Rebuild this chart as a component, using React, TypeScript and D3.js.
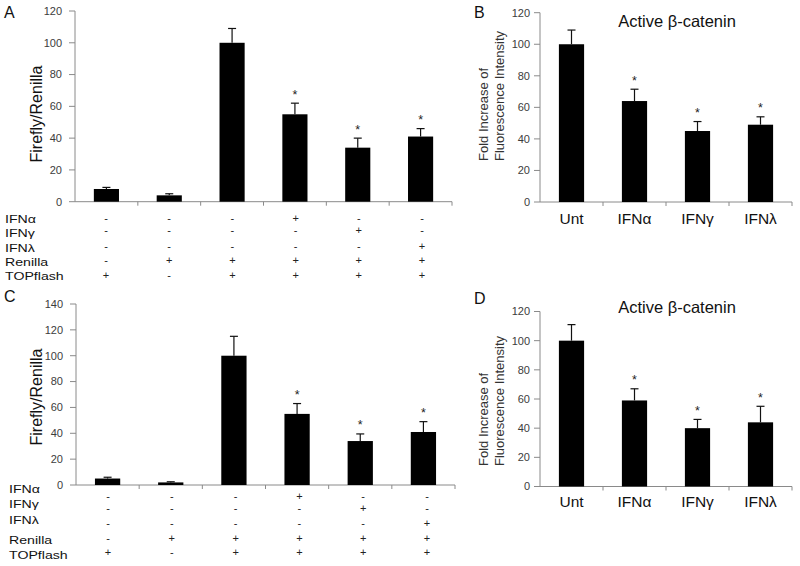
import React from 'react'
import * as d3 from 'd3'

// ---- data ----
const conditionRows = ['IFNα', 'IFNγ', 'IFNλ', 'Renilla', 'TOPflash']
const conditionSigns = [
  ['-', '-', '-', '+', '-', '-'],
  ['-', '-', '-', '-', '+', '-'],
  ['-', '-', '-', '-', '-', '+'],
  ['-', '+', '+', '+', '+', '+'],
  ['+', '-', '+', '+', '+', '+'],
]
const groups = ['1', '2', '3', '4', '5', '6']

const valuesA = [8, 4, 100, 55, 34, 41]
const errorsA = [1, 1, 9, 7, 6, 5]
const starsA = [false, false, false, true, true, true]
const ticksA = [0, 20, 40, 60, 80, 100, 120]

const valuesC = [5, 2, 100, 55, 34, 41]
const errorsC = [1, 0.5, 15, 8, 5.5, 8]
const starsC = [false, false, false, true, true, true]
const ticksC = [0, 20, 40, 60, 80, 100, 120, 140]

const treatments = ['Unt', 'IFNα', 'IFNγ', 'IFNλ']
const valuesB = [100, 64, 45, 49]
const errorsB = [9, 7.5, 6, 5]
const starsB = [false, true, true, true]

const valuesD = [100, 59, 40, 44]
const errorsD = [11, 8, 6, 11]
const starsD = [false, true, true, true]
const ticksBD = [0, 20, 40, 60, 80, 100, 120]

const FONT = '"Liberation Sans", Arial, Helvetica, sans-serif'
const AXIS = '#8a8a8a'
const TICKTXT = '#3c3c3c'

interface BarsProps {
  cats: string[]
  values: number[]
  errors: number[]
  stars: boolean[]
  ticks: number[]
  x0: number
  x1: number
  yTop: number
  yBottom: number
  labelGap: number
}

function Bars({ cats, values, errors, stars, ticks, x0, x1, yTop, yBottom, labelGap }: BarsProps) {
  const max = ticks[ticks.length - 1]
  const x = d3.scaleBand().domain(cats).range([x0, x1]).paddingInner(0.6).paddingOuter(0.3)
  const y = d3.scaleLinear().domain([0, max]).range([yBottom, yTop])
  const bw = x.bandwidth()
  const step = x.step()
  return (
    <g>
      {/* y axis */}
      <line x1={x0} x2={x0} y1={y(0)} y2={y(max)} stroke={AXIS} />
      {ticks.map(t => (
        <g key={t}>
          <line x1={x0 - 6} x2={x0} y1={y(t)} y2={y(t)} stroke={AXIS} />
          <text x={x0 - labelGap} y={y(t)} dy="0.35em" textAnchor="end" fontSize={11} fill={TICKTXT}>{t}</text>
        </g>
      ))}
      {/* x axis */}
      <line x1={x0} x2={x1} y1={y(0)} y2={y(0)} stroke={AXIS} />
      {cats.map((c, i) => (
        <line key={c} x1={x0 + step * (i + 1)} x2={x0 + step * (i + 1)} y1={y(0)} y2={y(0) + 4} stroke={AXIS} />
      ))}
      {/* bars, error bars, stars */}
      {cats.map((c, i) => {
        const cx = (x(c) ?? 0) + bw / 2
        const top = y(values[i] + errors[i])
        return (
          <g key={c}>
            <rect x={x(c)} y={y(values[i])} width={bw} height={y(0) - y(values[i])} fill="#000" />
            <line x1={cx} x2={cx} y1={y(values[i])} y2={top} stroke="#111" strokeWidth={1.2} />
            <line x1={cx - 4} x2={cx + 4} y1={top} y2={top} stroke="#111" strokeWidth={1.2} />
            {stars[i] && (
              <text x={cx} y={top - 4.5} textAnchor="middle" fontSize={12.5} fill="#222">*</text>
            )}
          </g>
        )
      })}
    </g>
  )
}

interface LucProps {
  values: number[]
  errors: number[]
  stars: boolean[]
  ticks: number[]
  x0: number
  x1: number
  yTop: number
  yBottom: number
  letter: string
  letterY: number
  labelX: number
  labelRows: number[]
  signRows: number[]
  signRange: [number, number]
  titleY: number
}

function LuciferasePanel(p: LucProps) {
  const sx = d3.scalePoint().domain(groups).range(p.signRange)
  return (
    <g>
      <text x={4} y={p.letterY} fontSize={16} fill="#111">{p.letter}</text>
      <Bars cats={groups} values={p.values} errors={p.errors} stars={p.stars} ticks={p.ticks}
        x0={p.x0} x1={p.x1} yTop={p.yTop} yBottom={p.yBottom} labelGap={13} />
      <text transform={`translate(42,${p.titleY}) rotate(-90)`} textAnchor="middle" fontSize={16} fill="#111">
        Firefly/Renilla
      </text>
      {conditionRows.map((r, ri) => (
        <g key={r}>
          <text transform={`translate(${p.labelX},${p.labelRows[ri]}) scale(1.2,1)`} dy="0.35em"
            fontSize={11.8} fill="#111">{r}</text>
          {groups.map((g, gi) => (
            <text key={g} x={sx(g)} y={p.signRows[ri]} dy="0.35em" textAnchor="middle" fontSize={11} fill="#222">
              {conditionSigns[ri][gi]}
            </text>
          ))}
        </g>
      ))}
    </g>
  )
}

interface StainProps {
  values: number[]
  errors: number[]
  stars: boolean[]
  yTop: number
  yBottom: number
  letter: string
  letterY: number
  titleY: number
  catY: number
  ylabY: number
}

function StainPanel(p: StainProps) {
  const x0 = 540
  const x1 = 792
  const x = d3.scaleBand().domain(treatments).range([x0, x1]).paddingInner(0.6).paddingOuter(0.3)
  return (
    <g>
      <text x={474} y={p.letterY} fontSize={16} fill="#111">{p.letter}</text>
      <Bars cats={treatments} values={p.values} errors={p.errors} stars={p.stars} ticks={ticksBD}
        x0={x0} x1={x1} yTop={p.yTop} yBottom={p.yBottom} labelGap={10} />
      <text x={677} y={p.titleY} textAnchor="middle" fontSize={16.5} fill="#111">Active β-catenin</text>
      {treatments.map(t => (
        <text key={t} x={(x(t) ?? 0) + x.bandwidth() / 2} y={p.catY} textAnchor="middle" fontSize={15.5} fill="#111">{t}</text>
      ))}
      <text transform={`translate(488,${p.ylabY}) rotate(-90)`} fontSize={13} fill="#333">Fold Increase of</text>
      <text transform={`translate(504,${p.ylabY}) rotate(-90)`} fontSize={13} fill="#333">Fluorescence Intensity</text>
    </g>
  )
}

export default function App() {
  return (
    <svg width={800} height={566} style={{ position: 'absolute', left: 0, top: 0, background: '#fff' }}
      fontFamily={FONT}>
      <rect width={800} height={566} fill="#fff" />
      <LuciferasePanel values={valuesA} errors={errorsA} stars={starsA} ticks={ticksA}
        x0={75} x1={452} yTop={11} yBottom={201.7} letter="A" letterY={18}
        labelX={5} labelRows={[219, 233, 248, 262, 276]} signRows={[218, 230, 246.5, 260.5, 275]}
        signRange={[106, 422]} titleY={114} />
      <LuciferasePanel values={valuesC} errors={errorsC} stars={starsC} ticks={ticksC}
        x0={76} x1={455} yTop={304} yBottom={485} letter="C" letterY={302}
        labelX={9} labelRows={[489, 504, 520, 540, 554.5]} signRows={[496, 508.5, 523, 538, 552.5]}
        signRange={[108, 427]} titleY={397} />
      <StainPanel values={valuesB} errors={errorsB} stars={starsB} yTop={12.7} yBottom={202}
        letter="B" letterY={18} titleY={27} catY={223.5} ylabY={161} />
      <StainPanel values={valuesD} errors={errorsD} stars={starsD} yTop={311.5} yBottom={486.5}
        letter="D" letterY={304} titleY={313} catY={507} ylabY={466} />
    </svg>
  )
}
